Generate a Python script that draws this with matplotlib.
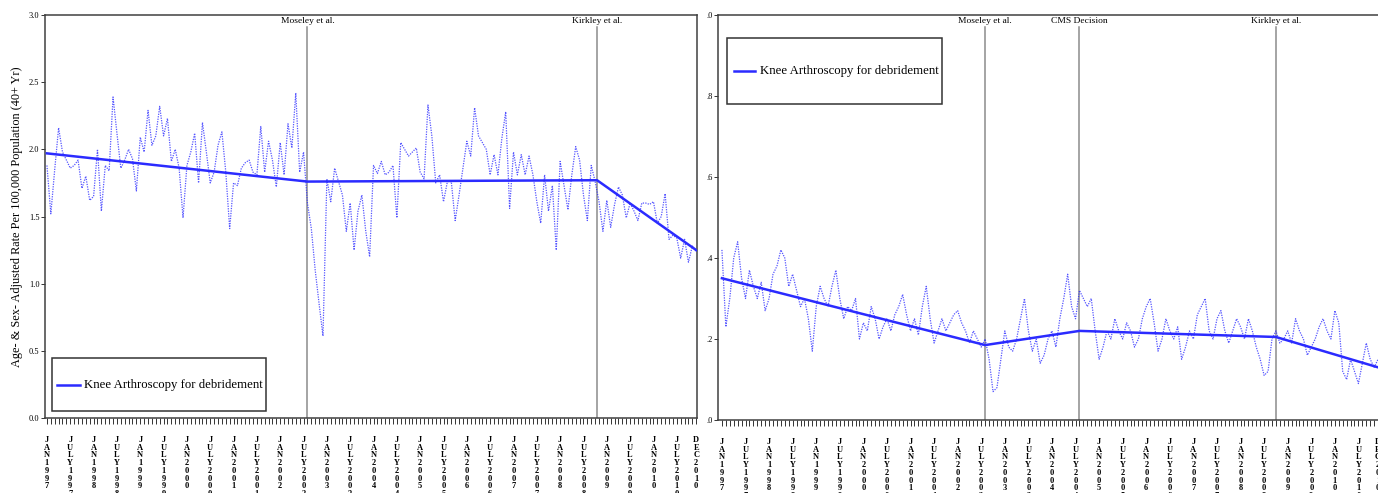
import matplotlib
matplotlib.use('Agg')
import matplotlib.pyplot as plt
from matplotlib.patches import Rectangle

plt.rcParams['font.family'] = ['Liberation Serif', 'DejaVu Serif']

# monthly index 0 = JAN1997 ... 167 = DEC2010
tick_pos = list(range(0, 163, 6)) + [167]
tick_lab = [('JAN' if i % 2 == 0 else 'JULY') + str(1997 + i // 2) for i in range(28)] + ['DEC2010']

left_rate = [1.88, 1.52, 1.85, 2.16, 1.98, 1.92, 1.86, 1.88, 1.92, 1.71,
             1.80, 1.62, 1.65, 2.00, 1.54, 1.88, 1.84, 2.39, 2.12, 1.86,
             1.92, 2.00, 1.93, 1.69, 2.09, 1.98, 2.29, 2.03, 2.10, 2.32,
             2.10, 2.23, 1.91, 2.00, 1.86, 1.49, 1.88, 1.98, 2.12, 1.75,
             2.20, 1.98, 1.75, 1.83, 2.03, 2.13, 1.83, 1.41, 1.75, 1.73,
             1.86, 1.90, 1.92, 1.83, 1.81, 2.17, 1.83, 2.06, 1.92, 1.72,
             2.05, 1.81, 2.19, 2.01, 2.42, 1.83, 1.98, 1.60, 1.41, 1.10,
             0.85, 0.61, 1.78, 1.61, 1.86, 1.76, 1.66, 1.39, 1.60, 1.25,
             1.54, 1.66, 1.39, 1.20, 1.88, 1.82, 1.91, 1.81, 1.83, 1.88,
             1.49, 2.05, 2.00, 1.95, 1.98, 2.01, 1.83, 1.78, 2.33, 2.10,
             1.75, 1.81, 1.61, 1.76, 1.76, 1.47, 1.66, 1.86, 2.06, 1.95,
             2.31, 2.10, 2.05, 2.00, 1.81, 1.96, 1.81, 2.08, 2.28, 1.56,
             1.98, 1.81, 1.96, 1.81, 1.95, 1.81, 1.61, 1.45, 1.81, 1.54,
             1.73, 1.25, 1.91, 1.73, 1.55, 1.81, 2.02, 1.92, 1.66, 1.47,
             1.88, 1.76, 1.61, 1.39, 1.62, 1.42, 1.59, 1.72, 1.66, 1.49,
             1.60, 1.54, 1.47, 1.60, 1.60, 1.59, 1.61, 1.45, 1.50, 1.67,
             1.33, 1.36, 1.34, 1.19, 1.33, 1.16, 1.28, 1.24]
left_trend_x = [0, 67, 141.5, 167]
left_trend_y = [1.97, 1.76, 1.77, 1.25]
left_events = [67, 141.5]
left_event_lab = ['Moseley et al.', 'Kirkley et al.']

right_rate = [.42, .23, .30, .40, .44, .35, .30, .37, .33, .30,
              .34, .27, .30, .36, .38, .42, .40, .33, .36, .32,
              .28, .30, .25, .17, .28, .33, .30, .28, .33, .37,
              .30, .25, .28, .27, .30, .20, .24, .22, .28, .25,
              .20, .23, .25, .22, .26, .28, .31, .26, .22, .25,
              .21, .28, .33, .25, .19, .22, .25, .22, .24, .26,
              .27, .24, .22, .19, .22, .20, .18, .20, .15, .07,
              .08, .15, .22, .18, .17, .20, .25, .30, .22, .17,
              .20, .14, .16, .20, .22, .18, .25, .30, .36, .28,
              .25, .32, .30, .28, .30, .22, .15, .18, .22, .20,
              .25, .22, .20, .24, .22, .18, .20, .25, .28, .30,
              .24, .17, .20, .25, .22, .20, .23, .15, .18, .22,
              .20, .26, .28, .30, .22, .20, .25, .27, .22, .19,
              .22, .25, .23, .20, .25, .22, .18, .15, .11, .12,
              .20, .22, .19, .20, .22, .19, .25, .22, .20, .16,
              .18, .20, .23, .25, .22, .20, .27, .24, .12, .10,
              .15, .12, .09, .14, .19, .15, .13, .15]
right_trend_x = [0, 67, 91, 141, 167]
right_trend_y = [0.35, 0.185, 0.22, 0.205, 0.13]
right_events = [67, 91, 141]
right_event_lab = ['Moseley et al.', 'CMS Decision', 'Kirkley et al.']

legend_text = 'Knee Arthroscopy for debridement'

months = list(range(len(left_rate)))
BLUE = '#2b2bff'
W, H = 1378, 493

fig = plt.figure(figsize=(W / 100, H / 100), dpi=100)
ax1 = fig.add_axes([45 / W, 1 - 418 / H, 652 / W, 403 / H])
ax2 = fig.add_axes([718 / W, 1 - 420 / H, 664 / W, 405 / H])


def style_axis(ax, ymax, events, ev_labels):
    for xe, lab in zip(events, ev_labels):
        ax.plot([xe, xe], [0, ymax * 0.97], color='#8c8c8c', lw=1.1, zorder=1)
        ax.text(xe, ymax * 0.985, lab, ha='center', va='center', fontsize=6.8)
    ax.set_xticks(range(0, 168), minor=True)
    ax.set_xticks(tick_pos)
    ax.set_xticklabels(['\n'.join(t) for t in tick_lab], fontsize=6,
                       fontweight='bold', linespacing=0.95, va='top')
    ax.tick_params(axis='x', which='both', length=4, width=0.7, color='#333333', pad=9)
    ax.tick_params(axis='y', length=3, width=0.7, color='#333333', labelsize=6, pad=1)
    for s in ax.spines.values():
        s.set_color('#404040')
        s.set_linewidth(1.1)


def box_legend(ax, x0, y0, w, h, hx0, hx1, ty):
    # hand-drawn legend box (axes fractions)
    ax.add_patch(Rectangle((x0, y0), w, h, transform=ax.transAxes, fill=True,
                           facecolor='white', edgecolor='#333333', lw=1.1, zorder=5))
    ax.plot([hx0, hx1], [ty, ty], transform=ax.transAxes, color=BLUE, lw=1.8, zorder=6)
    ax.text(hx1 + 0.007, ty, legend_text, transform=ax.transAxes, fontsize=9.2,
            va='center', ha='left', zorder=6)


# left panel
ax1.plot(months, left_rate, color=BLUE, lw=0.9, ls=(0, (1, 1)), alpha=0.8, zorder=2)
ax1.plot(left_trend_x, left_trend_y, color=BLUE, lw=1.8, zorder=3)
ax1.set_xlim(-0.5, 167.2)
ax1.set_ylim(0, 3.0)
ax1.set_yticks([0, 0.5, 1.0, 1.5, 2.0, 2.5, 3.0])
ax1.set_yticklabels(['0.0', '0.5', '1.0', '1.5', '2.0', '2.5', '3.0'])
style_axis(ax1, 3.0, left_events, left_event_lab)
ax1.set_ylabel('Age- & Sex- Adjusted Rate Per 100,000 Population (40+ Yr)', fontsize=8.8, labelpad=4)
box_legend(ax1, 0.0107, 0.0174, 0.328, 0.1315, 0.019, 0.053, 0.082)

# right panel
ax2.plot(months, right_rate, color=BLUE, lw=0.9, ls=(0, (1, 1)), alpha=0.8, zorder=2)
ax2.plot(right_trend_x, right_trend_y, color=BLUE, lw=1.8, zorder=3)
ax2.set_xlim(-1, 168)
ax2.set_ylim(0, 1.0)
ax2.set_yticks([0, 0.2, 0.4, 0.6, 0.8, 1.0])
ax2.set_yticklabels(['.0', '.2', '.4', '.6', '.8', '.0'])
style_axis(ax2, 1.0, right_events, right_event_lab)
box_legend(ax2, 0.0136, 0.780, 0.324, 0.163, 0.024, 0.056, 0.862)

fig.savefig('out.png', dpi=100)
